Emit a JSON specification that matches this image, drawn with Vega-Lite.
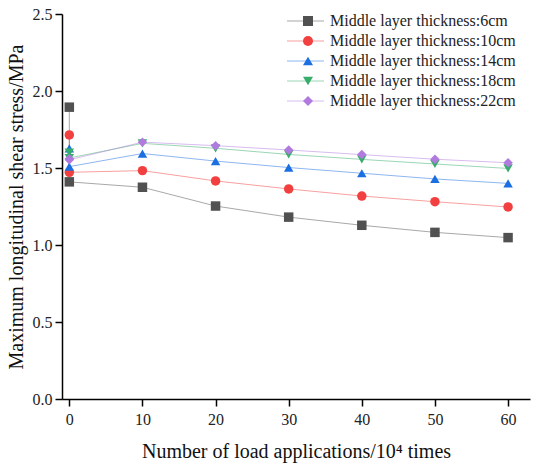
{
  "$schema": "https://vega.github.io/schema/vega-lite/v6.json",
  "width": 468,
  "height": 385,
  "autosize": {"type": "none"},
  "padding": {"left": 62, "top": 14, "right": 20, "bottom": 66},
  "background": "white",
  "config": {
    "view": {"stroke": null},
    "font": "Liberation Serif",
    "axis": {
      "grid": false,
      "domainColor": "#000000",
      "domainWidth": 1.5,
      "tickColor": "#000000",
      "tickWidth": 1.5,
      "tickSize": 7,
      "labelFont": "Liberation Serif",
      "labelFontSize": 16,
      "labelColor": "#222222",
      "titleFont": "Liberation Serif",
      "titleFontSize": 20,
      "titleFontWeight": "normal",
      "titleColor": "#111111"
    },
    "legend": {
      "labelFont": "Liberation Serif",
      "labelFontSize": 16,
      "labelColor": "#222222",
      "labelLimit": 400
    }
  },
  "data": {
    "values": [
      {"series": "Middle layer thickness:6cm", "i": 0, "x": 0, "y": 1.895},
      {"series": "Middle layer thickness:6cm", "i": 1, "x": 0, "y": 1.41},
      {"series": "Middle layer thickness:6cm", "i": 2, "x": 10, "y": 1.375},
      {"series": "Middle layer thickness:6cm", "i": 3, "x": 20, "y": 1.253},
      {"series": "Middle layer thickness:6cm", "i": 4, "x": 30, "y": 1.181},
      {"series": "Middle layer thickness:6cm", "i": 5, "x": 40, "y": 1.128},
      {"series": "Middle layer thickness:6cm", "i": 6, "x": 50, "y": 1.082},
      {"series": "Middle layer thickness:6cm", "i": 7, "x": 60, "y": 1.048},
      {"series": "Middle layer thickness:10cm", "i": 0, "x": 0, "y": 1.715},
      {"series": "Middle layer thickness:10cm", "i": 1, "x": 0, "y": 1.472},
      {"series": "Middle layer thickness:10cm", "i": 2, "x": 10, "y": 1.483},
      {"series": "Middle layer thickness:10cm", "i": 3, "x": 20, "y": 1.416},
      {"series": "Middle layer thickness:10cm", "i": 4, "x": 30, "y": 1.364},
      {"series": "Middle layer thickness:10cm", "i": 5, "x": 40, "y": 1.318},
      {"series": "Middle layer thickness:10cm", "i": 6, "x": 50, "y": 1.281},
      {"series": "Middle layer thickness:10cm", "i": 7, "x": 60, "y": 1.247},
      {"series": "Middle layer thickness:14cm", "i": 0, "x": 0, "y": 1.628},
      {"series": "Middle layer thickness:14cm", "i": 1, "x": 0, "y": 1.509},
      {"series": "Middle layer thickness:14cm", "i": 2, "x": 10, "y": 1.594},
      {"series": "Middle layer thickness:14cm", "i": 3, "x": 20, "y": 1.545},
      {"series": "Middle layer thickness:14cm", "i": 4, "x": 30, "y": 1.503},
      {"series": "Middle layer thickness:14cm", "i": 5, "x": 40, "y": 1.466},
      {"series": "Middle layer thickness:14cm", "i": 6, "x": 50, "y": 1.429},
      {"series": "Middle layer thickness:14cm", "i": 7, "x": 60, "y": 1.4},
      {"series": "Middle layer thickness:18cm", "i": 0, "x": 0, "y": 1.6},
      {"series": "Middle layer thickness:18cm", "i": 1, "x": 0, "y": 1.565},
      {"series": "Middle layer thickness:18cm", "i": 2, "x": 10, "y": 1.66},
      {"series": "Middle layer thickness:18cm", "i": 3, "x": 20, "y": 1.628},
      {"series": "Middle layer thickness:18cm", "i": 4, "x": 30, "y": 1.588},
      {"series": "Middle layer thickness:18cm", "i": 5, "x": 40, "y": 1.556},
      {"series": "Middle layer thickness:18cm", "i": 6, "x": 50, "y": 1.526},
      {"series": "Middle layer thickness:18cm", "i": 7, "x": 60, "y": 1.497},
      {"series": "Middle layer thickness:22cm", "i": 0, "x": 0, "y": 1.56},
      {"series": "Middle layer thickness:22cm", "i": 1, "x": 0, "y": 1.553},
      {"series": "Middle layer thickness:22cm", "i": 2, "x": 10, "y": 1.668},
      {"series": "Middle layer thickness:22cm", "i": 3, "x": 20, "y": 1.645},
      {"series": "Middle layer thickness:22cm", "i": 4, "x": 30, "y": 1.617},
      {"series": "Middle layer thickness:22cm", "i": 5, "x": 40, "y": 1.587},
      {"series": "Middle layer thickness:22cm", "i": 6, "x": 50, "y": 1.557},
      {"series": "Middle layer thickness:22cm", "i": 7, "x": 60, "y": 1.534}
    ]
  },
  "encoding": {
    "x": {
      "field": "x",
      "type": "quantitative",
      "scale": {"domain": [-1, 63], "nice": false, "zero": false},
      "axis": {
        "values": [0, 10, 20, 30, 40, 50, 60],
        "labelFont": "Liberation Serif",
        "labelPadding": 5,
        "titlePadding": 14,
        "title": "Number of load applications/10⁴ times"
      }
    },
    "y": {
      "field": "y",
      "type": "quantitative",
      "scale": {"domain": [0, 2.5], "nice": false},
      "axis": {
        "values": [0, 0.5, 1, 1.5, 2, 2.5],
        "format": ".1f",
        "labelFont": "Liberation Serif",
        "labelPadding": 3,
        "titlePadding": 6,
        "title": "Maximum longitudinal shear stress/MPa"
      }
    }
  },
  "layer": [
    {
      "mark": {"type": "line", "strokeWidth": 1, "opacity": 0.5},
      "encoding": {
        "order": {"field": "i", "type": "quantitative"},
        "color": {
          "field": "series",
          "type": "nominal",
          "sort": null,
          "scale": {
            "domain": ["Middle layer thickness:6cm", "Middle layer thickness:10cm", "Middle layer thickness:14cm", "Middle layer thickness:18cm", "Middle layer thickness:22cm"],
            "range": ["#515151", "#f23f3f", "#1b6fe0", "#37ad6b", "#b07ade"]
          },
          "legend": {
            "title": null,
            "orient": "none",
            "legendX": 224.5,
            "legendY": -1,
            "padding": 0,
            "rowPadding": 4,
            "clipHeight": 16,
            "symbolType": "stroke",
            "symbolSize": 1369,
            "symbolStrokeWidth": 1,
            "symbolOpacity": 0.5,
            "labelOffset": 11,
            "labelLimit": 400,
            "labelExpr": "''",
            "labelColor": "transparent"
          }
        }
      }
    },
    {
      "mark": {"type": "point", "filled": true, "size": 90, "opacity": 1},
      "encoding": {
        "color": {
          "field": "series",
          "type": "nominal",
          "sort": null,
          "scale": {
            "domain": ["Middle layer thickness:6cm", "Middle layer thickness:10cm", "Middle layer thickness:14cm", "Middle layer thickness:18cm", "Middle layer thickness:22cm"],
            "range": ["#515151", "#f23f3f", "#1b6fe0", "#37ad6b", "#b07ade"]
          },
          "legend": {
            "title": null,
            "orient": "none",
            "legendX": 238,
            "legendY": -1,
            "padding": 0,
            "rowPadding": 4,
            "clipHeight": 16,
            "symbolSize": 100,
            "labelOffset": 14,
            "labelLimit": 400,
            "symbolOpacity": 1
          }
        },
        "shape": {
          "field": "series",
          "type": "nominal",
          "sort": null,
          "scale": {
            "domain": ["Middle layer thickness:6cm", "Middle layer thickness:10cm", "Middle layer thickness:14cm", "Middle layer thickness:18cm", "Middle layer thickness:22cm"],
            "range": ["square", "circle", "triangle-up", "triangle-down", "diamond"]
          },
          "legend": {
            "title": null,
            "orient": "none",
            "legendX": 238,
            "legendY": -1,
            "padding": 0,
            "rowPadding": 4,
            "clipHeight": 16,
            "symbolSize": 100,
            "labelOffset": 14,
            "labelLimit": 400,
            "symbolOpacity": 1
          }
        }
      }
    }
  ],
  "resolve": {
    "scale": {"color": "independent", "shape": "independent"},
    "legend": {"color": "independent", "shape": "independent"}
  }
}
